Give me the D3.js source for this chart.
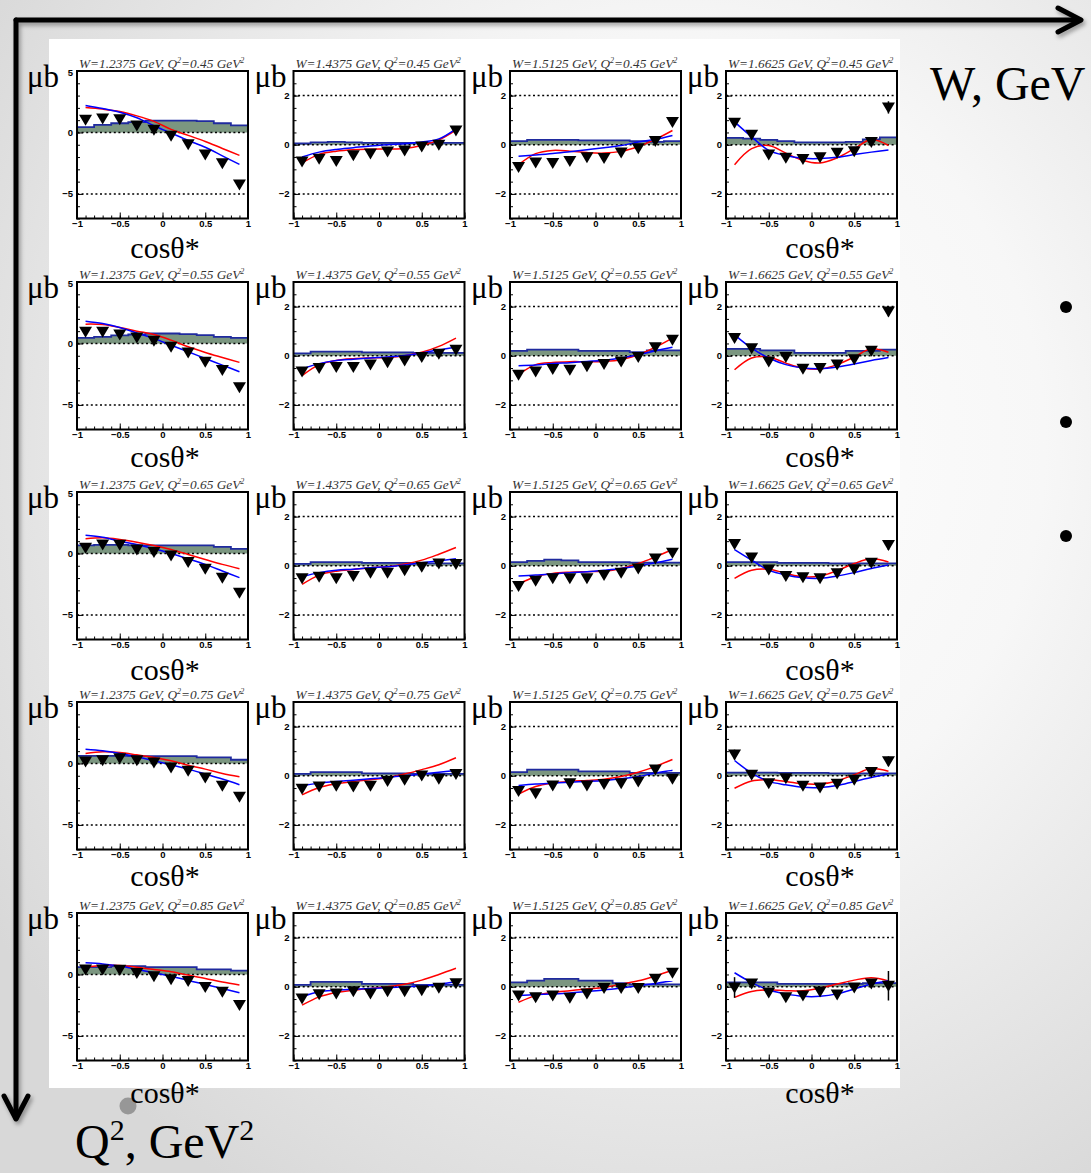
<!DOCTYPE html>
<html>
<head>
<meta charset="utf-8">
<script src="https://cdn.jsdelivr.net/npm/d3@7"></script>
<style>
body { margin: 0; background: #fff; }
svg { display: block; }
</style>
</head>
<body>
<div id="chart"></div>
<script>
// W bins (columns) and Q2 bins (rows)
var wBins = ["1.2375", "1.4375", "1.5125", "1.6625"];
var q2Bins = ["0.45", "0.55", "0.65", "0.75", "0.85"];

// cos theta* bin centres and edges
var cosCenters = [-0.9, -0.7, -0.5, -0.3, -0.1, 0.1, 0.3, 0.5, 0.7, 0.9];
var cosEdges = [-1, -0.8, -0.6, -0.4, -0.2, 0, 0.2, 0.4, 0.6, 0.8, 1];

// data points, one list per panel (row by row: Q2, then W)
var points = [
  [1.03, 1.14, 1.08, 0.57, 0.22, -0.27, -0.95, -1.8, -2.5, -4.24],
  [-0.68, -0.57, -0.66, -0.43, -0.36, -0.27, -0.23, -0.07, 0.0, 0.58],
  [-0.9, -0.72, -0.74, -0.66, -0.51, -0.54, -0.32, -0.14, 0.15, 0.93],
  [0.89, 0.41, -0.4, -0.53, -0.58, -0.51, -0.33, -0.26, 0.11, 1.52],
  [0.95, 0.95, 0.73, 0.49, 0.22, -0.27, -0.73, -1.49, -2.16, -3.57],
  [-0.64, -0.5, -0.46, -0.46, -0.36, -0.26, -0.19, -0.05, 0.08, 0.24],
  [-0.77, -0.64, -0.54, -0.57, -0.43, -0.34, -0.23, -0.05, 0.35, 0.65],
  [0.72, 0.31, -0.23, -0.05, -0.53, -0.5, -0.36, -0.14, 0.2, 1.8],
  [0.46, 0.73, 0.7, 0.32, 0.11, -0.16, -0.7, -1.24, -1.97, -3.19],
  [-0.51, -0.45, -0.51, -0.42, -0.28, -0.28, -0.18, -0.04, 0.09, 0.07],
  [-0.82, -0.61, -0.51, -0.51, -0.51, -0.38, -0.28, -0.11, 0.3, 0.53],
  [0.88, 0.34, -0.15, -0.42, -0.47, -0.51, -0.31, -0.14, 0.12, 0.84],
  [0.16, 0.27, 0.43, 0.27, 0.08, -0.32, -0.59, -1.14, -1.81, -2.7],
  [-0.53, -0.44, -0.41, -0.44, -0.41, -0.21, -0.16, 0.01, -0.12, 0.07],
  [-0.62, -0.71, -0.4, -0.3, -0.4, -0.34, -0.3, -0.23, 0.25, -0.12],
  [0.86, 0.04, -0.3, -0.1, -0.41, -0.48, -0.33, -0.16, 0.15, 0.59],
  [0.41, 0.41, 0.38, 0.11, -0.14, -0.38, -0.54, -1.03, -1.41, -2.49],
  [-0.48, -0.31, -0.27, -0.18, -0.27, -0.18, -0.18, -0.14, -0.04, 0.14],
  [-0.36, -0.43, -0.36, -0.45, -0.27, -0.05, -0.05, -0.05, 0.33, 0.57],
  [-0.03, 0.13, -0.23, -0.43, -0.36, -0.19, -0.32, -0.03, 0.13, 0.04]
];

// red model curve, sampled at the bin centres
var redCurve = [
  [2.03, 1.9, 1.7, 1.35, 0.9, 0.25, -0.24, -0.73, -1.3, -1.86],
  [-0.74, -0.39, -0.26, -0.2, -0.18, -0.17, -0.15, -0.03, 0.2, 0.6],
  [-0.81, -0.36, -0.23, -0.26, -0.32, -0.34, -0.27, -0.07, 0.22, 0.58],
  [-0.81, -0.16, -0.03, -0.34, -0.64, -0.74, -0.53, -0.16, 0.21, -0.03],
  [1.57, 1.54, 1.3, 1.0, 0.73, 0.27, -0.27, -0.73, -1.14, -1.54],
  [-0.81, -0.36, -0.19, -0.12, -0.09, -0.07, 0.0, 0.14, 0.38, 0.72],
  [-0.77, -0.36, -0.27, -0.24, -0.24, -0.23, -0.16, 0.04, 0.35, 0.72],
  [-0.57, -0.09, -0.05, -0.3, -0.5, -0.54, -0.36, -0.05, 0.28, 0.14],
  [1.19, 1.27, 1.14, 0.92, 0.65, 0.32, -0.08, -0.49, -0.89, -1.24],
  [-0.76, -0.38, -0.22, -0.15, -0.08, -0.04, 0.07, 0.23, 0.47, 0.74],
  [-0.74, -0.45, -0.31, -0.26, -0.24, -0.22, -0.11, 0.09, 0.36, 0.66],
  [-0.51, -0.18, -0.14, -0.31, -0.45, -0.42, -0.2, 0.09, 0.28, 0.15],
  [0.81, 0.95, 0.89, 0.7, 0.49, 0.22, -0.14, -0.46, -0.81, -1.08],
  [-0.78, -0.48, -0.33, -0.23, -0.16, -0.07, 0.07, 0.25, 0.45, 0.73],
  [-0.75, -0.44, -0.3, -0.23, -0.19, -0.14, -0.03, 0.14, 0.38, 0.66],
  [-0.51, -0.21, -0.16, -0.23, -0.33, -0.34, -0.21, 0.04, 0.29, 0.18],
  [0.59, 0.73, 0.73, 0.59, 0.41, 0.22, -0.05, -0.32, -0.62, -0.86],
  [-0.75, -0.41, -0.23, -0.14, -0.07, 0.0, 0.1, 0.27, 0.5, 0.75],
  [-0.63, -0.36, -0.23, -0.16, -0.09, -0.03, 0.11, 0.24, 0.44, 0.67],
  [-0.43, -0.19, -0.13, -0.16, -0.16, -0.05, 0.11, 0.27, 0.37, 0.24]
];

// blue model curve, sampled at the bin centres
var blueCurve = [
  [2.2, 1.95, 1.65, 1.2, 0.55, -0.05, -0.65, -1.2, -1.9, -2.6],
  [-0.5, -0.3, -0.19, -0.12, -0.05, 0.0, 0.04, 0.11, 0.24, 0.65],
  [-0.47, -0.42, -0.36, -0.28, -0.2, -0.12, -0.03, 0.11, 0.22, 0.38],
  [0.93, 0.32, -0.23, -0.44, -0.55, -0.56, -0.51, -0.4, -0.3, -0.21],
  [1.81, 1.62, 1.3, 0.86, 0.41, -0.14, -0.68, -1.22, -1.76, -2.3],
  [-0.54, -0.32, -0.19, -0.14, -0.09, -0.05, 0.01, 0.11, 0.24, 0.35],
  [-0.41, -0.38, -0.32, -0.28, -0.23, -0.18, -0.09, 0.04, 0.2, 0.35],
  [0.85, 0.31, -0.09, -0.36, -0.5, -0.53, -0.46, -0.34, -0.19, -0.07],
  [1.49, 1.32, 1.0, 0.73, 0.38, 0.0, -0.43, -0.89, -1.43, -1.97],
  [-0.45, -0.28, -0.18, -0.14, -0.08, -0.04, 0.03, 0.12, 0.2, 0.28],
  [-0.42, -0.38, -0.34, -0.28, -0.24, -0.18, -0.11, -0.01, 0.12, 0.26],
  [0.66, 0.23, -0.18, -0.38, -0.49, -0.51, -0.42, -0.28, -0.11, 0.03],
  [1.16, 1.03, 0.81, 0.54, 0.22, -0.11, -0.46, -0.86, -1.27, -1.73],
  [-0.4, -0.3, -0.23, -0.18, -0.12, -0.07, 0.0, 0.07, 0.14, 0.21],
  [-0.4, -0.34, -0.3, -0.26, -0.23, -0.19, -0.12, -0.03, 0.11, 0.22],
  [0.62, 0.11, -0.23, -0.37, -0.47, -0.48, -0.4, -0.23, -0.07, 0.07],
  [0.95, 0.86, 0.68, 0.41, 0.14, -0.14, -0.49, -0.81, -1.14, -1.49],
  [-0.41, -0.2, -0.14, -0.1, -0.07, -0.04, 0.0, 0.03, 0.1, 0.2],
  [-0.36, -0.32, -0.29, -0.25, -0.19, -0.13, -0.05, 0.04, 0.13, 0.24],
  [0.57, 0.17, -0.13, -0.29, -0.39, -0.39, -0.29, -0.09, 0.11, 0.24]
];

// systematic band heights, one per cos bin
var sysBand = [
  [0.43, 0.62, 0.75, 0.84, 0.97, 0.97, 0.97, 0.92, 0.75, 0.57],
  [0.05, 0.1, 0.12, 0.1, 0.08, 0.08, 0.08, 0.08, 0.08, 0.08],
  [0.15, 0.2, 0.2, 0.2, 0.18, 0.18, 0.18, 0.15, 0.12, 0.15],
  [0.28, 0.25, 0.2, 0.15, 0.1, 0.1, 0.1, 0.12, 0.22, 0.3],
  [0.46, 0.54, 0.65, 0.73, 0.81, 0.81, 0.76, 0.68, 0.54, 0.46],
  [0.1, 0.17, 0.17, 0.17, 0.14, 0.14, 0.14, 0.12, 0.12, 0.12],
  [0.2, 0.25, 0.25, 0.25, 0.2, 0.2, 0.2, 0.15, 0.22, 0.22],
  [0.28, 0.28, 0.22, 0.22, 0.12, 0.12, 0.12, 0.2, 0.2, 0.25],
  [0.65, 0.7, 0.7, 0.65, 0.65, 0.65, 0.65, 0.65, 0.54, 0.38],
  [0.08, 0.15, 0.15, 0.15, 0.12, 0.12, 0.12, 0.1, 0.1, 0.1],
  [0.15, 0.2, 0.25, 0.22, 0.15, 0.15, 0.15, 0.13, 0.13, 0.13],
  [0.15, 0.15, 0.15, 0.12, 0.12, 0.12, 0.1, 0.1, 0.1, 0.1],
  [0.62, 0.62, 0.62, 0.6, 0.6, 0.6, 0.6, 0.49, 0.49, 0.3],
  [0.08, 0.15, 0.15, 0.15, 0.1, 0.1, 0.1, 0.08, 0.08, 0.08],
  [0.15, 0.25, 0.25, 0.25, 0.18, 0.18, 0.18, 0.12, 0.12, 0.12],
  [0.13, 0.13, 0.13, 0.12, 0.12, 0.12, 0.1, 0.1, 0.1, 0.1],
  [0.59, 0.59, 0.68, 0.68, 0.59, 0.59, 0.59, 0.41, 0.41, 0.32],
  [0.08, 0.2, 0.2, 0.2, 0.12, 0.12, 0.12, 0.08, 0.08, 0.08],
  [0.18, 0.25, 0.32, 0.32, 0.25, 0.25, 0.15, 0.1, 0.1, 0.1],
  [0.18, 0.18, 0.18, 0.12, 0.12, 0.12, 0.12, 0.12, 0.15, 0.15]
];

// the few error bars that stick out of the markers: [panel, bin, error]
var bigErrors = [
  [3, 9, 0.25], [7, 9, 0.2], [11, 9, 0.2],
  [15, 0, 0.2], [15, 9, 0.2], [19, 0, 0.42], [19, 9, 0.6]
];

// ---- layout ----
var width = 1091, height = 1173;
var colX = [77, 293.5, 510, 726];
var rowY = [71, 282, 492, 702, 913];
var pw = 171, ph = 147.5;
var cosLabelY = [258, 467, 680, 886, 1103];

var svg = d3.select("#chart").append("svg")
  .attr("width", width)
  .attr("height", height);

var defs = svg.append("defs");
var grad = defs.append("radialGradient")
  .attr("id", "bg")
  .attr("cx", "62%").attr("cy", "38%").attr("r", "75%");
grad.append("stop").attr("offset", "0%").attr("stop-color", "#ffffff");
grad.append("stop").attr("offset", "45%").attr("stop-color", "#f7f7f7");
grad.append("stop").attr("offset", "100%").attr("stop-color", "#d8d8d8");

var shadow = defs.append("filter").attr("id", "shadow")
  .attr("x", "-5%").attr("y", "-5%").attr("width", "110%").attr("height", "110%");
shadow.append("feDropShadow")
  .attr("dx", 2).attr("dy", 3).attr("stdDeviation", 2)
  .attr("flood-color", "#000").attr("flood-opacity", 0.35);

// slide background
svg.append("rect")
  .attr("width", width).attr("height", height)
  .attr("fill", "url(#bg)");

// white plot canvas
svg.append("rect")
  .attr("x", 49).attr("y", 39)
  .attr("width", 851).attr("height", 1049)
  .attr("fill", "#ffffff");

// axis arrows
var arrows = svg.append("g")
  .attr("filter", "url(#shadow)")
  .attr("fill", "none")
  .attr("stroke", "#000")
  .attr("stroke-width", 5)
  .attr("stroke-linecap", "round")
  .attr("stroke-linejoin", "round");
arrows.append("path").attr("d", "M16,20 H1080");
arrows.append("path").attr("d", "M1058,8 L1081,20 L1058,32");
arrows.append("path").attr("d", "M16,20 V1118");
arrows.append("path").attr("d", "M4,1096 L16,1119 L28,1096");

svg.append("text")
  .attr("x", 930).attr("y", 100)
  .attr("font-family", "Liberation Serif, serif")
  .attr("font-size", 48)
  .text("W, GeV");

var q2Label = svg.append("text")
  .attr("x", 75).attr("y", 1158)
  .attr("font-family", "Liberation Serif, serif")
  .attr("font-size", 48);
q2Label.append("tspan").text("Q");
q2Label.append("tspan").attr("font-size", 30).attr("dy", -18).text("2");
q2Label.append("tspan").attr("dy", 18).text(", GeV");
q2Label.append("tspan").attr("font-size", 30).attr("dy", -18).text("2");

svg.append("circle")
  .attr("cx", 128).attr("cy", 1106).attr("r", 8.5)
  .attr("fill", "#8c8c8c").attr("opacity", 0.85);

[307, 422, 536].forEach(function(cy) {
  svg.append("circle").attr("cx", 1066).attr("cy", cy).attr("r", 6).attr("fill", "#000");
});

// ---- panels ----
var x = d3.scaleLinear().domain([-1, 1]).range([0, pw]);

var tickFont = "Liberation Sans, Arial, sans-serif";
var tickFmt = d3.format("~g");

q2Bins.forEach(function(q2, r) {
  wBins.forEach(function(w, c) {
    var idx = r * 4 + c;
    var first = c === 0;
    var y = d3.scaleLinear()
      .domain(first ? [-7, 5] : [-3, 3])
      .range([ph, 0]);
    var majors = first ? [-5, 0, 5] : [-2, 0, 2];
    var minors = first ? d3.range(-7, 5.01, 1) : d3.range(-3, 3.01, 0.5);

    var g = svg.append("g")
      .attr("transform", "translate(" + colX[c] + "," + rowY[r] + ")");

    // title
    var title = g.append("text")
      .attr("x", 2).attr("y", -3)
      .attr("font-family", "Liberation Serif, serif")
      .attr("font-style", "italic")
      .attr("font-size", 13.3)
      .attr("fill", "#333");
    title.append("tspan").text("W=" + w + " GeV, Q");
    title.append("tspan").attr("font-size", 8).attr("dy", -5).text("2");
    title.append("tspan").attr("dy", 5).text("=" + q2 + " GeV");
    title.append("tspan").attr("font-size", 8).attr("dy", -5).text("2");

    // systematic band
    var bandPts = sysBand[idx].map(function(v, i) { return [cosEdges[i], v]; });
    bandPts.push([1, sysBand[idx][9]]);
    g.append("path")
      .datum(bandPts)
      .attr("fill", "#7b9680")
      .attr("d", d3.area()
        .curve(d3.curveStepAfter)
        .x(function(d) { return x(d[0]); })
        .y0(y(0))
        .y1(function(d) { return y(d[1]); }));
    g.append("path")
      .datum(bandPts)
      .attr("fill", "none")
      .attr("stroke", "#1f2a9e")
      .attr("stroke-width", 1.8)
      .attr("d", d3.line()
        .curve(d3.curveStepAfter)
        .x(function(d) { return x(d[0]); })
        .y(function(d) { return y(d[1]); }));

    // dotted reference lines
    g.selectAll(".grid")
      .data(majors)
      .enter().append("line")
      .attr("x1", 0).attr("x2", pw)
      .attr("y1", function(d) { return y(d); })
      .attr("y2", function(d) { return y(d); })
      .attr("stroke", "#000")
      .attr("stroke-width", 1.5)
      .attr("stroke-dasharray", "2,2.6");

    // model curves
    var curveLine = d3.line()
      .curve(d3.curveCatmullRom.alpha(0.5))
      .x(function(d, i) { return x(cosCenters[i]); })
      .y(function(d) { return y(d); });
    g.append("path").datum(redCurve[idx])
      .attr("fill", "none").attr("stroke", "#ff0000").attr("stroke-width", 1.5)
      .attr("d", curveLine);
    g.append("path").datum(blueCurve[idx])
      .attr("fill", "none").attr("stroke", "#0000ff").attr("stroke-width", 1.5)
      .attr("d", curveLine);

    // error bars
    bigErrors.filter(function(e) { return e[0] === idx; }).forEach(function(e) {
      var v = points[idx][e[1]];
      g.append("line")
        .attr("x1", x(cosCenters[e[1]])).attr("x2", x(cosCenters[e[1]]))
        .attr("y1", y(v - e[2])).attr("y2", y(v + e[2]))
        .attr("stroke", "#000").attr("stroke-width", 1.5);
    });

    // data markers (downward triangles)
    g.selectAll(".pt")
      .data(points[idx])
      .enter().append("path")
      .attr("transform", function(d, i) {
        return "translate(" + x(cosCenters[i]) + "," + y(d) + ")";
      })
      .attr("d", "M-6.5,-5 L6.5,-5 L0,6 Z")
      .attr("fill", "#000");

    // ticks
    var xMajor = d3.axisBottom(x)
      .tickValues([-1, -0.5, 0, 0.5, 1])
      .tickFormat(tickFmt)
      .tickSizeInner(-6).tickSizeOuter(0).tickPadding(2);
    var xMinor = d3.axisBottom(x)
      .tickValues(d3.range(-1, 1.001, 0.1))
      .tickSizeInner(-3).tickSizeOuter(0).tickFormat("");
    var yMajor = d3.axisLeft(y)
      .tickValues(majors)
      .tickFormat(tickFmt)
      .tickSizeInner(-6).tickSizeOuter(0).tickPadding(4);
    var yMinor = d3.axisLeft(y)
      .tickValues(minors)
      .tickSizeInner(-3).tickSizeOuter(0).tickFormat("");

    var gx = g.append("g").attr("transform", "translate(0," + ph + ")");
    gx.call(xMinor);
    var gx2 = g.append("g").attr("transform", "translate(0," + ph + ")").call(xMajor);
    var gy = g.append("g").call(yMinor);
    var gy2 = g.append("g").call(yMajor);
    [gx, gx2, gy, gy2].forEach(function(a) {
      a.select(".domain").remove();
      a.selectAll("line").attr("stroke", "#000").attr("stroke-width", 1);
      a.selectAll("text")
        .attr("font-family", tickFont)
        .attr("font-weight", "bold")
        .attr("font-size", 9.5)
        .attr("fill", "#000");
    });
    if (first) {
      // top label sits at the frame edge like ROOT
      gy2.selectAll("text").filter(function(d) { return d === 5; }).attr("dy", "0.5em");
    }

    // frame
    g.append("rect")
      .attr("width", pw).attr("height", ph)
      .attr("fill", "none")
      .attr("stroke", "#000")
      .attr("stroke-width", 2);

    // unit label
    g.append("text")
      .attr("x", first ? -50 : -39)
      .attr("y", 16)
      .attr("font-family", "Liberation Serif, serif")
      .attr("font-size", 31)
      .text("μb");

    // cos theta label under first and last column
    if (c === 0 || c === 3) {
      svg.append("text")
        .attr("x", c === 0 ? 165 : 820)
        .attr("y", cosLabelY[r])
        .attr("text-anchor", "middle")
        .attr("font-family", "Liberation Serif, serif")
        .attr("font-size", 30)
        .text("cosθ*");
    }
  });
});
</script>
</body>
</html>
